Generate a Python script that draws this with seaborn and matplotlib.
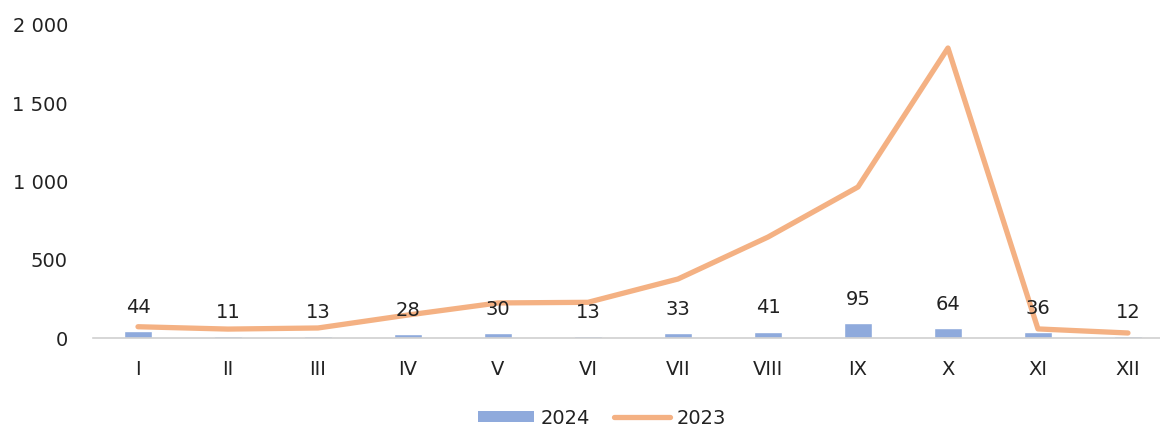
import numpy as np
import pandas as pd
import matplotlib
matplotlib.use('Agg')
import matplotlib.pyplot as plt
import seaborn as sns
from matplotlib.patches import Patch
from matplotlib.lines import Line2D

sns.set_style('white')
plt.rcParams['font.family'] = ['DejaVu Sans']

# monthly values
months = ['I', 'II', 'III', 'IV', 'V', 'VI', 'VII', 'VIII', 'IX', 'X', 'XI', 'XII']
vals_2024 = [44, 11, 13, 28, 30, 13, 33, 41, 95, 64, 36, 12]
vals_2023 = [72, 57, 64, 147, 224, 228, 377, 645, 965, 1853, 58, 32]

df = pd.DataFrame({'Month': months, '2024': vals_2024, '2023': vals_2023})
df['pos'] = np.arange(len(months))

bar_color = '#8FAADC'
line_color = '#F4B183'
fs = 14

fig = plt.figure(figsize=(11.6, 4.28), dpi=100)
ax = fig.add_axes([93 / 1160, 90 / 428, 1067 / 1160, 313 / 428])

sns.barplot(x='Month', y='2024', data=df, color=bar_color, width=0.31,
            saturation=1, ax=ax, zorder=2)
sns.lineplot(x='pos', y='2023', data=df, color=line_color, linewidth=3.8,
             sort=False, ax=ax, zorder=3, solid_capstyle='round')

# data labels above the bars
for i, v in enumerate(vals_2024):
    ax.annotate(str(v), (i, v), xytext=(0, 17), textcoords='offset points',
                ha='center', va='center', fontsize=fs, color='#222222')

ax.set_xlim(-0.5, 11.356)
ax.set_ylim(0, 2000)
ax.set_yticks([0, 500, 1000, 1500, 2000])
ax.set_yticklabels(['0', '500', '1 000', '1 500', '2 000'])
ax.set_xlabel('')
ax.set_ylabel('')
ax.tick_params(axis='y', length=0, pad=18, labelsize=fs, labelcolor='#222222')
ax.tick_params(axis='x', length=0, pad=16, labelsize=fs, labelcolor='#222222')

for s in ['top', 'right', 'left']:
    ax.spines[s].set_visible(False)
ax.spines['bottom'].set_color('#D0D0D0')
ax.spines['bottom'].set_linewidth(1.2)

handles = [Patch(facecolor=bar_color, edgecolor='none'),
           Line2D([0], [0], color=line_color, linewidth=3.8, solid_capstyle='round')]
fig.legend(handles, ['2024', '2023'], loc='center', bbox_to_anchor=(602 / 1160, 1 - 418 / 428),
           ncol=2, frameon=False, fontsize=fs, handlelength=2.9, handleheight=0.55,
           handletextpad=0.35, columnspacing=1.2, labelcolor='#222222')

fig.savefig('out.png', dpi=100)
